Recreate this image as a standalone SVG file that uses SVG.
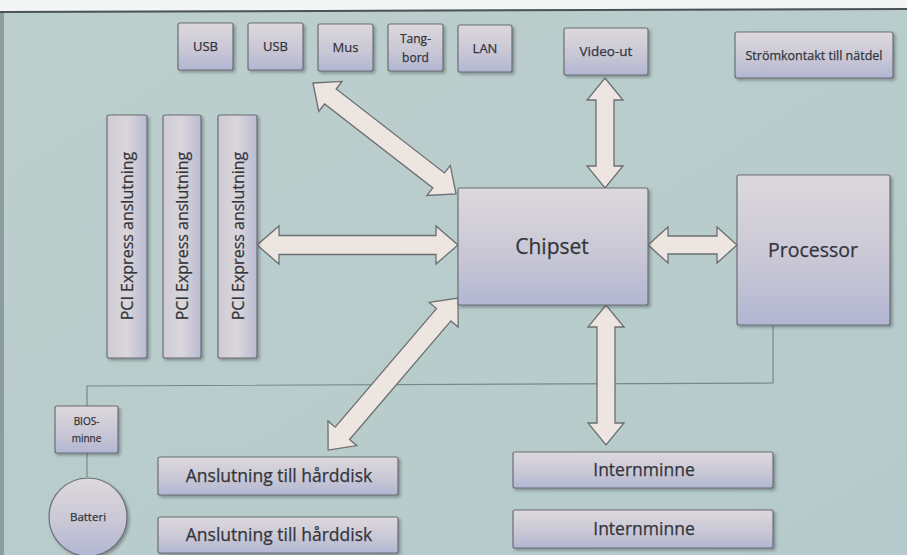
<svg xmlns="http://www.w3.org/2000/svg" width="907" height="555" viewBox="0 0 907 555">
<defs>
<linearGradient id="box" x1="0" y1="0" x2="0" y2="1">
<stop offset="0" stop-color="#dcd8dc"/>
<stop offset="0.55" stop-color="#cac8d6"/>
<stop offset="1" stop-color="#b2b6d2"/>
</linearGradient>
<linearGradient id="boxv" x1="0" y1="0" x2="1" y2="0">
<stop offset="0" stop-color="#cfcbd5"/>
<stop offset="0.5" stop-color="#dad6da"/>
<stop offset="1" stop-color="#b8bad2"/>
</linearGradient>
<linearGradient id="bg" x1="0" y1="0" x2="1" y2="1">
<stop offset="0" stop-color="#bccfcd"/>
<stop offset="1" stop-color="#b6cacb"/>
</linearGradient>
<filter id="sh" x="-20%" y="-20%" width="140%" height="140%">
<feDropShadow dx="2" dy="2" stdDeviation="1.5" flood-color="#3a4448" flood-opacity="0.45"/>
</filter>
</defs>
<style>
.b{fill:url(#box);stroke:#6b6f76;stroke-width:1.2;filter:url(#sh)}
.bv{fill:url(#boxv);stroke:#6b6f76;stroke-width:1.2;filter:url(#sh)}
.t{font-family:"Open Sans","Liberation Sans",sans-serif;fill:#33353b;stroke:#33353b;stroke-width:0.25;text-anchor:middle}
.a{fill:#ede5df;stroke:#6a6e72;stroke-width:1.3;stroke-linejoin:miter}
.l{fill:none;stroke:#7b868a;stroke-width:1.2}
</style>
<rect width="907" height="555" fill="url(#bg)"/>
<polygon points="0,0 907,0 907,8 0,11" fill="#f4f6f6"/>
<polygon points="0,11 907,8 907,10 0,13" fill="#4a5458"/>
<rect x="0" y="13" width="4" height="542" fill="#8d9c9e"/>

<g id="connectors">
<polyline class="l" points="773,325 773,383 87,386 87,406"/>
<line class="l" x1="87" y1="453" x2="87" y2="477"/>
<g transform="translate(313,83) rotate(37.8)"><polygon class="a" points="0,0 22,-19 22,-9.5 159,-9.5 159,-19 181,0 159,19 159,9.5 22,9.5 22,19"/></g>
<g transform="translate(605,78) rotate(90)"><polygon class="a" points="0,0 22,-18 22,-9 88,-9 88,-18 110,0 88,18 88,9 22,9 22,18"/></g>
<g transform="translate(257,245)"><polygon class="a" points="0,0 22,-19 22,-9.5 179,-9.5 179,-19 201,0 179,19 179,9.5 22,9.5 22,19"/></g>
<g transform="translate(648,245)"><polygon class="a" points="0,0 20,-18 20,-9 69,-9 69,-18 89,0 69,18 69,9 20,9 20,18"/></g>
<g transform="translate(606,305) rotate(90)"><polygon class="a" points="0,0 22,-18 22,-9 118,-9 118,-18 140,0 118,18 118,9 22,9 22,18"/></g>
<g transform="translate(458,298) rotate(130.5)"><polygon class="a" points="0,0 22,-19 22,-9.5 178,-9.5 178,-19 200,0 178,19 178,9.5 22,9.5 22,19"/></g>
</g>

<g id="usb1"><rect class="b" x="178" y="23" width="55" height="47" rx="2"/><text class="t" x="205.5" y="51" font-size="13">USB</text></g>
<g id="usb2"><rect class="b" x="248" y="23" width="55" height="47" rx="2"/><text class="t" x="275.5" y="51" font-size="13">USB</text></g>
<g id="mus"><rect class="b" x="318" y="24" width="55" height="47" rx="2"/><text class="t" x="345.5" y="52" font-size="13">Mus</text></g>
<g id="tangbord"><rect class="b" x="388" y="24" width="55" height="47" rx="2"/><text class="t" x="415.5" y="43" font-size="12">Tang-</text><text class="t" x="415.5" y="62" font-size="12">bord</text></g>
<g id="lan"><rect class="b" x="458" y="25" width="54" height="47" rx="2"/><text class="t" x="485" y="53" font-size="13">LAN</text></g>
<g id="video"><rect class="b" x="564" y="28" width="84" height="47" rx="2"/><text class="t" x="606" y="56" font-size="13.5">Video-ut</text></g>
<g id="strom"><rect class="b" x="735" y="32" width="158" height="46" rx="2"/><text class="t" x="814" y="60" font-size="12.5">Strömkontakt till nätdel</text></g>

<g id="pci1"><rect class="bv" x="107" y="115" width="40" height="243" rx="2"/><text class="t" transform="translate(133,236) rotate(-90)" font-size="16">PCI Express anslutning</text></g>
<g id="pci2"><rect class="bv" x="163" y="115" width="38" height="243" rx="2"/><text class="t" transform="translate(188,236) rotate(-90)" font-size="16">PCI Express anslutning</text></g>
<g id="pci3"><rect class="bv" x="218" y="115" width="39" height="243" rx="2"/><text class="t" transform="translate(244,236) rotate(-90)" font-size="16">PCI Express anslutning</text></g>

<g id="chipset"><rect class="b" x="458" y="188" width="190" height="117" rx="2"/><text class="t" x="552" y="254" font-size="21">Chipset</text></g>
<g id="processor"><rect class="b" x="737" y="175" width="153" height="150" rx="2"/><text class="t" x="813" y="257" font-size="19.5">Processor</text></g>

<g id="bios"><rect class="b" x="55" y="406" width="63" height="47" rx="2"/><text class="t" x="86.5" y="425" font-size="10">BIOS-</text><text class="t" x="86.5" y="442" font-size="10">minne</text></g>
<g id="batteri"><circle cx="88" cy="517" r="39" fill="url(#box)" stroke="#6b6f76" stroke-width="1.2" filter="url(#sh)"/><text class="t" x="88" y="521" font-size="11.5">Batteri</text></g>

<g id="hd1"><rect class="b" x="158" y="457" width="240" height="38" rx="2"/><text class="t" x="279" y="482" font-size="17.5">Anslutning till hårddisk</text></g>
<g id="hd2"><rect class="b" x="158" y="517" width="240" height="36" rx="2"/><text class="t" x="279" y="541" font-size="17.5">Anslutning till hårddisk</text></g>
<g id="mem1"><rect class="b" x="513" y="452" width="260" height="36" rx="2"/><text class="t" x="644" y="476" font-size="17.5">Internminne</text></g>
<g id="mem2"><rect class="b" x="513" y="510" width="260" height="38" rx="2"/><text class="t" x="644" y="535" font-size="17.5">Internminne</text></g>
</svg>
